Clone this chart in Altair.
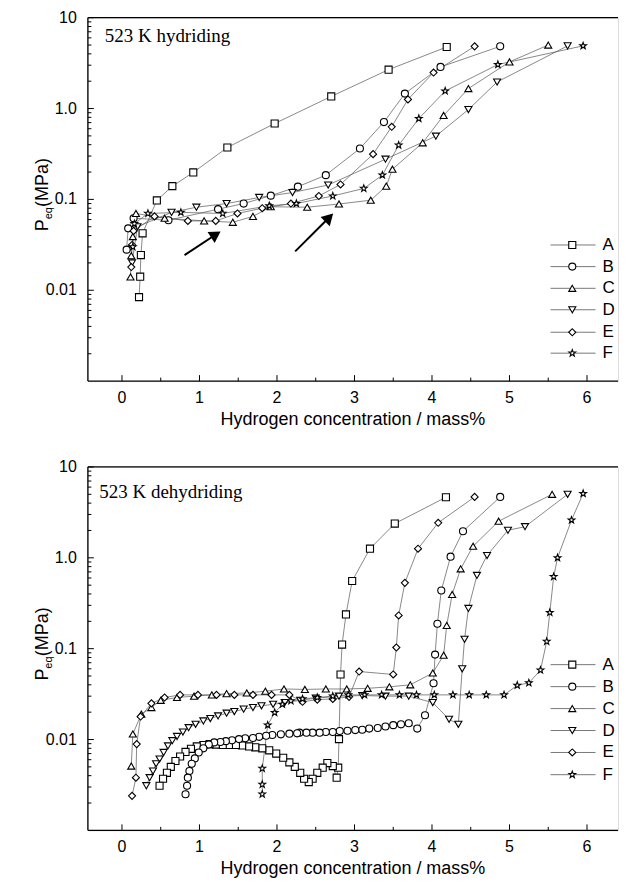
import altair as alt
import pandas as pd

SERIES = ["A", "B", "C", "D", "E", "F"]
STAR = "M0,-1L0.235,-0.324L0.951,-0.309L0.38,0.124L0.588,0.809L0,0.4L-0.588,0.809L-0.38,0.124L-0.951,-0.309L-0.235,-0.324Z"
SHAPES = ["square", "circle", "triangle-up", "triangle-down", "diamond", STAR]

# ---------------- 523 K hydriding (top) ----------------
hA_x = [0.22, 0.235, 0.244, 0.266, 0.45, 0.65, 0.92, 1.36, 1.97, 2.70, 3.44, 4.19]
hA_y = [0.0084, 0.0141, 0.0244, 0.0423, 0.0975, 0.14, 0.198, 0.373, 0.684, 1.36, 2.68, 4.76]
hB_x = [0.06, 0.08, 0.15, 0.6, 1.24, 1.57, 1.92, 2.27, 2.63, 3.07, 3.38, 3.65, 4.11, 4.88]
hB_y = [0.028, 0.048, 0.062, 0.059, 0.078, 0.09, 0.11, 0.138, 0.185, 0.363, 0.71, 1.46, 2.87, 4.84]
hC_x = [0.11, 0.12, 0.14, 0.18, 0.55, 1.06, 1.43, 1.69, 1.92, 2.39, 2.8, 3.21, 3.41, 3.49, 3.88, 4.15, 4.47, 5.0, 5.5]
hC_y = [0.014, 0.024, 0.039, 0.07, 0.062, 0.058, 0.056, 0.065, 0.083, 0.082, 0.089, 0.098, 0.14, 0.215, 0.42, 0.84, 1.66, 3.26, 5.0]
hD_x = [0.13, 0.2, 0.64, 0.96, 1.35, 1.77, 2.2, 2.66, 3.40, 4.05, 4.47, 4.84, 5.75]
hD_y = [0.02, 0.05, 0.072, 0.082, 0.09, 0.105, 0.119, 0.144, 0.277, 0.497, 0.975, 1.96, 4.9]
hE_x = [0.12, 0.13, 0.15, 0.42, 0.85, 1.21, 1.49, 1.81, 2.18, 2.54, 2.82, 3.24, 3.48, 3.69, 4.02, 4.55]
hE_y = [0.018, 0.0315, 0.045, 0.065, 0.058, 0.058, 0.07, 0.08, 0.09, 0.109, 0.146, 0.315, 0.63, 1.26, 2.49, 4.84]
hF_x = [0.14, 0.16, 0.335, 0.76, 1.3, 1.9, 2.25, 2.72, 3.12, 3.36, 3.57, 3.83, 4.17, 4.85, 5.95]
hF_y = [0.03, 0.054, 0.070, 0.072, 0.07, 0.085, 0.09, 0.109, 0.132, 0.185, 0.395, 0.776, 1.56, 3.05, 4.9]

# ---------------- 523 K dehydriding (bottom) ----------------
dA_x = [4.18, 3.52, 3.20, 2.97, 2.89, 2.84, 2.82, 2.80, 2.79, 2.77, 2.72, 2.65, 2.59, 2.52, 2.46, 2.41,
        2.35, 2.30, 2.23, 2.16, 2.08, 1.99, 1.90, 1.81, 1.72, 1.64, 1.55, 1.47, 1.38, 1.30, 1.21, 1.13,
        1.05, 0.965, 0.89, 0.82, 0.75, 0.69, 0.63, 0.58, 0.53, 0.485]
dA_y = [4.64, 2.38, 1.26, 0.555, 0.238, 0.111, 0.052, 0.0101, 0.0049, 0.0038, 0.0051, 0.0055, 0.0049, 0.0043, 0.0037, 0.0034,
        0.0037, 0.0043, 0.005, 0.0056, 0.0063, 0.0070, 0.0076, 0.0080, 0.0082, 0.0084, 0.0086, 0.0087, 0.0087, 0.0087, 0.0088, 0.0089,
        0.0087, 0.0084, 0.0079, 0.0073, 0.0065, 0.0058, 0.0050, 0.0043, 0.0037, 0.0031]
dB_x = [4.88, 4.40, 4.24, 4.12, 4.07, 4.04, 4.02, 3.91, 3.81, 3.70, 3.60, 3.50, 3.40, 3.30, 3.19, 3.10, 3.01,
        2.91, 2.81, 2.72, 2.63, 2.55, 2.46, 2.38, 2.29, 2.26, 2.16, 2.05, 1.94, 1.86, 1.77, 1.69, 1.59, 1.51,
        1.42, 1.34, 1.27, 1.19, 1.12, 1.05, 0.99, 0.94, 0.90, 0.87, 0.85, 0.84, 0.82]
dB_y = [4.68, 1.96, 1.03, 0.437, 0.188, 0.086, 0.0416, 0.0185, 0.0132, 0.0151, 0.0147, 0.0144, 0.0139, 0.0134, 0.0132, 0.0128, 0.0127,
        0.0125, 0.0124, 0.0121, 0.0121, 0.0119, 0.0119, 0.0119, 0.0119, 0.0117, 0.0116, 0.0114, 0.0112, 0.011, 0.0107, 0.0104, 0.0103, 0.0101,
        0.0098, 0.0096, 0.0094, 0.0093, 0.0088, 0.0080, 0.0072, 0.0062, 0.0054, 0.0045, 0.0038, 0.0031, 0.0025]
dC_x = [5.55, 4.86, 4.53, 4.37, 4.26, 4.19, 4.15, 4.01, 3.72, 3.45, 3.17, 2.90, 2.63, 2.36, 2.09, 1.85, 1.61,
        1.35, 1.16, 0.93, 0.71, 0.50, 0.38, 0.25, 0.14, 0.12]
dC_y = [5.0, 2.53, 1.34, 0.757, 0.395, 0.18, 0.0846, 0.054, 0.040, 0.038, 0.0366, 0.036, 0.036, 0.0356, 0.036, 0.034, 0.0325,
        0.032, 0.031, 0.030, 0.029, 0.027, 0.0225, 0.019, 0.0115, 0.0051]
dD_x = [5.75, 5.2, 4.98, 4.71, 4.58, 4.47, 4.42, 4.39, 4.34, 4.22, 4.01, 3.7, 3.4, 3.1, 2.8, 2.5, 2.3, 2.1, 1.95,
        1.8, 1.69, 1.57, 1.45, 1.35, 1.24, 1.14, 1.05, 0.95, 0.86, 0.786, 0.71, 0.65, 0.593, 0.537, 0.485, 0.44,
        0.40, 0.357, 0.314]
dD_y = [5.0, 2.2, 2.01, 1.06, 0.64, 0.277, 0.127, 0.060, 0.0147, 0.0167, 0.0255, 0.030, 0.030, 0.0305, 0.030, 0.0285, 0.027, 0.0255, 0.0244,
        0.0235, 0.0225, 0.0216, 0.0203, 0.0195, 0.0182, 0.017, 0.016, 0.0147, 0.0135, 0.0121, 0.0108, 0.0097, 0.0085, 0.0072, 0.0061, 0.0054,
        0.0045, 0.0038, 0.0031]
dE_x = [4.55, 4.08, 3.82, 3.65, 3.57, 3.54, 3.50, 3.06, 2.93, 2.72, 2.52, 2.33, 2.16, 1.93, 1.69, 1.45, 1.22, 0.98,
        0.75, 0.55, 0.38, 0.24, 0.19, 0.18, 0.13]
dE_y = [4.68, 2.43, 1.26, 0.53, 0.232, 0.103, 0.052, 0.056, 0.0295, 0.028, 0.0275, 0.026, 0.031, 0.031, 0.031, 0.031, 0.031, 0.031,
        0.031, 0.029, 0.025, 0.0179, 0.0089, 0.0038, 0.0024]
dF_x = [5.95, 5.8, 5.62, 5.57, 5.52, 5.48, 5.4, 5.25, 5.1, 4.93, 4.70, 4.48, 4.27, 4.03, 3.8, 3.58, 3.35, 3.13,
        2.92, 2.72, 2.52, 2.33, 2.18, 2.07, 1.97, 1.88, 1.81, 1.81, 1.81]
dF_y = [5.1, 2.6, 1.0, 0.62, 0.25, 0.12, 0.058, 0.042, 0.0395, 0.031, 0.031, 0.031, 0.031, 0.031, 0.031, 0.031, 0.031, 0.031,
        0.031, 0.030, 0.029, 0.028, 0.0266, 0.0244, 0.0198, 0.0144, 0.0048, 0.0032, 0.0025]

# arrows in the hydriding panel
arrow_tail_x = [0.807, 2.235]
arrow_tail_y = [0.0244, 0.0268]
arrow_head_x = [1.211, 2.673]
arrow_head_y = [0.0411, 0.0631]
arrow_angle = [57, 45]

# legend rows (data space)
leg_top_y = [0.0315, 0.0182, 0.0105, 0.0061, 0.00345, 0.00203]
leg_bot_y = [0.0667, 0.0382, 0.0219, 0.01256, 0.0072, 0.0041]
leg_x1, leg_x2, leg_xs, leg_xt = 5.53, 6.11, 5.81, 6.2

X_TICKS = [0, 1, 2, 3, 4, 5, 6]
X_LABELS = ["0", "1", "2", "3", "4", "5", "6"]
X_MINOR = [0.5, 1.5, 2.5, 3.5, 4.5, 5.5]
Y_TICKS = [0.01, 0.1, 1, 10]
Y_LABELS = ["0.01", "0.1", "1.0", "10"]
Y_MINOR = [k * 10.0 ** e for e in range(-3, 1) for k in range(2, 10)]
X_TITLE = "Hydrogen concentration / mass%"

W, H = 531, 364
FONT = "Liberation Sans"

xs = alt.Scale(domain=[-0.44, 6.4], nice=False, zero=False)
ys = alt.Scale(type="log", domain=[0.001, 10], nice=False)
one = pd.DataFrame({"a": [0]})


def frame(xs_list, ys_list):
    rows = []
    for s, xv, yv in zip(SERIES, xs_list, ys_list):
        for i, (a, b) in enumerate(zip(xv, yv)):
            rows.append({"series": s, "order": i, "x": a, "y": b})
    return pd.DataFrame(rows)


def X(f):
    return alt.X(f, scale=xs, axis=None)


def Y(f):
    return alt.Y(f, scale=ys, axis=None)


def panel(df, label, label_x, label_y, leg_y, arrows=False):
    base = alt.Chart(df)
    lines = base.mark_line(stroke="#555555", strokeWidth=0.7).encode(
        x=X("x:Q"), y=Y("y:Q"), detail="series:N", order="order:Q")
    pts = base.mark_point(filled=True, fill="white", stroke="black", strokeWidth=1.1, size=50, opacity=1).encode(
        x=X("x:Q"), y=Y("y:Q"),
        shape=alt.Shape("series:N", scale=alt.Scale(domain=SERIES, range=SHAPES), legend=None))
    yline = alt.Chart(one).mark_rule(color="black", strokeWidth=1.3).encode(
        x=alt.value(0), y=alt.value(0), y2=alt.value(H))
    xline = alt.Chart(one).mark_rule(color="black", strokeWidth=1.3).encode(
        x=alt.value(0), x2=alt.value(W), y=alt.value(H))
    top = alt.Chart(one).mark_rule(color="black", strokeWidth=1.3).encode(
        x=alt.value(0), x2=alt.value(W), y=alt.value(0))
    ymaj = alt.Chart(pd.DataFrame({"t": Y_TICKS})).mark_rule(color="black", strokeWidth=1).encode(
        y=Y("t:Q"), x=alt.value(0), x2=alt.value(6))
    ymin = alt.Chart(pd.DataFrame({"t": Y_MINOR})).mark_rule(color="black", strokeWidth=1).encode(
        y=Y("t:Q"), x=alt.value(0), x2=alt.value(3.5))
    xmaj = alt.Chart(pd.DataFrame({"t": X_TICKS})).mark_rule(color="black", strokeWidth=1).encode(
        x=X("t:Q"), y=alt.value(H), y2=alt.value(H - 6))
    xmin = alt.Chart(pd.DataFrame({"t": X_MINOR})).mark_rule(color="black", strokeWidth=1).encode(
        x=X("t:Q"), y=alt.value(H), y2=alt.value(H - 3.5))
    ylab = alt.Chart(pd.DataFrame({"t": Y_TICKS, "s": Y_LABELS})).mark_text(
        font=FONT, fontSize=16, align="right", baseline="middle", color="black").encode(
        y=Y("t:Q"), x=alt.value(-11), text="s:N")
    xlab = alt.Chart(pd.DataFrame({"t": X_TICKS, "s": X_LABELS})).mark_text(
        font=FONT, fontSize=16, align="center", baseline="top", color="black").encode(
        x=X("t:Q"), y=alt.value(H + 9), text="s:N")
    xtitle = alt.Chart(one).mark_text(
        font=FONT, fontSize=18, align="center", baseline="top", color="black").encode(
        x=alt.value(W / 2), y=alt.value(H + 30), text=alt.value(X_TITLE))
    lab = alt.Chart(one).mark_text(
        font="Liberation Serif", fontSize=19, align="left", baseline="alphabetic", color="black").encode(
        x=alt.value(label_x), y=alt.value(label_y), text=alt.value(label))
    yt1 = alt.Chart(one).mark_text(
        font=FONT, fontSize=18, angle=270, align="left", baseline="alphabetic", color="black").encode(
        x=alt.value(-40), y=alt.value(214), text=alt.value("P"))
    yt2 = alt.Chart(one).mark_text(
        font=FONT, fontSize=11, angle=270, align="left", baseline="alphabetic", color="black").encode(
        x=alt.value(-36), y=alt.value(202), text=alt.value("eq"))
    yt3 = alt.Chart(one).mark_text(
        font=FONT, fontSize=18, angle=270, align="left", baseline="alphabetic", color="black").encode(
        x=alt.value(-40), y=alt.value(189.5), text=alt.value("(MPa)"))
    leg = pd.DataFrame({"series": SERIES, "ly": leg_y, "x1": leg_x1, "x2": leg_x2, "xs": leg_xs, "xt": leg_xt})
    lb = alt.Chart(leg)
    leg_line = lb.mark_rule(color="#555555", strokeWidth=0.8).encode(
        x=X("x1:Q"), x2="x2:Q", y=Y("ly:Q"))
    leg_pt = lb.mark_point(filled=True, fill="white", stroke="black", strokeWidth=1.1, size=50, opacity=1).encode(
        x=X("xs:Q"), y=Y("ly:Q"),
        shape=alt.Shape("series:N", scale=alt.Scale(domain=SERIES, range=SHAPES), legend=None))
    leg_tx = lb.mark_text(font=FONT, fontSize=17, align="left", baseline="middle", color="black").encode(
        x=X("xt:Q"), y=Y("ly:Q"), text="series:N")
    layers = [lines, pts, yline, xline, top, ymaj, ymin, xmaj, xmin, ylab, xlab, xtitle,
              lab, yt1, yt2, yt3, leg_line, leg_pt, leg_tx]
    if arrows:
        adf = pd.DataFrame({"tx": arrow_tail_x, "ty": arrow_tail_y, "hx": arrow_head_x,
                            "hy": arrow_head_y, "ang": arrow_angle})
        ab = alt.Chart(adf)
        shaft = ab.mark_rule(color="black", strokeWidth=2).encode(
            x=X("tx:Q"), y=Y("ty:Q"), x2="hx:Q", y2="hy:Q")
        head = ab.mark_point(shape="triangle-up", filled=True, color="black", size=170, opacity=1).encode(
            x=X("hx:Q"), y=Y("hy:Q"), angle=alt.Angle("ang:Q", scale=None))
        layers += [shaft, head]
    return alt.layer(*layers).properties(width=W, height=H)


top_df = frame([hA_x, hB_x, hC_x, hD_x, hE_x, hF_x], [hA_y, hB_y, hC_y, hD_y, hE_y, hF_y])
bot_df = frame([dA_x, dB_x, dC_x, dD_x, dE_x, dF_x], [dA_y, dB_y, dC_y, dD_y, dE_y, dF_y])

chart = alt.vconcat(
    panel(top_df, "523 K hydriding", 17, 24, leg_top_y, arrows=True),
    panel(bot_df, "523 K  dehydriding", 11.5, 31, leg_bot_y),
    spacing=28,
).properties(
    padding={"left": 25, "top": 0, "right": 0, "bottom": 0}
).configure_view(stroke=None).configure(background="white")

chart.save("out.html", embed_options={"renderer": "svg", "actions": False})
